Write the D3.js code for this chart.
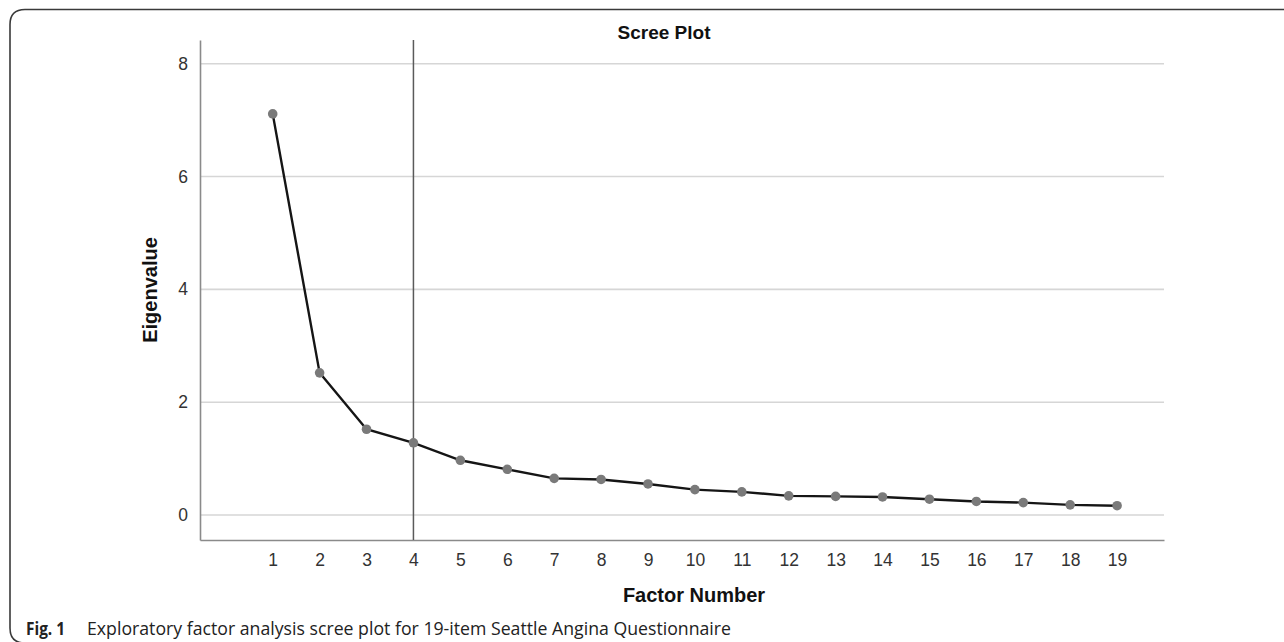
<!DOCTYPE html>
<html>
<head>
<meta charset="utf-8">
<script src="https://cdn.jsdelivr.net/npm/d3@7"></script>
<style>
  html, body { margin: 0; padding: 0; background: #fff; }
  svg { display: block; }
</style>
</head>
<body>
<div id="chart"></div>
<script>
// scree plot data
var factors = [1, 2, 3, 4, 5, 6, 7, 8, 9, 10, 11, 12, 13, 14, 15, 16, 17, 18, 19];
var eigenvalues = [7.11, 2.52, 1.52, 1.28, 0.97, 0.81, 0.65, 0.63, 0.55, 0.45,
                   0.41, 0.34, 0.33, 0.32, 0.28, 0.24, 0.22, 0.18, 0.165];
var yTicks = [0, 2, 4, 6, 8];
var cutoffFactor = 4;

var width = 1284;
var height = 642;
var font = '"Liberation Sans", Arial, sans-serif';

var svg = d3.select('#chart')
  .append('svg')
  .attr('width', width)
  .attr('height', height);

// figure frame (open on the right)
svg.append('path')
  .attr('d', 'M1290,9.5 H25 Q10,9.5 10,24.5 V628 Q10,643 25,643 H1290')
  .attr('fill', 'none')
  .attr('stroke', '#3a3a3a')
  .attr('stroke-width', 1.6);

var x = d3.scaleLinear().domain([-0.55, 20]).range([200, 1164]);
var y = d3.scaleLinear().domain([-0.443, 8.42]).range([540, 40]);

// gridlines
svg.append('g')
  .selectAll('line')
  .data(yTicks)
  .enter()
  .append('line')
  .attr('x1', x.range()[0])
  .attr('x2', x.range()[1])
  .attr('y1', function (d) { return y(d); })
  .attr('y2', function (d) { return y(d); })
  .attr('stroke', '#d6d6d6')
  .attr('stroke-width', 1.6);

// axes
var yAxis = svg.append('g')
  .attr('transform', 'translate(' + x.range()[0] + ',0)')
  .call(d3.axisLeft(y).tickValues(yTicks).tickSize(0).tickPadding(12));

var xAxis = svg.append('g')
  .attr('transform', 'translate(0,' + y.range()[0] + ')')
  .call(d3.axisBottom(x).tickValues(factors).tickSize(0).tickPadding(14).tickFormat(d3.format('d')));

[yAxis, xAxis].forEach(function (g) {
  g.select('.domain').attr('stroke', '#8a8a8a').attr('stroke-width', 1.6);
  g.selectAll('text')
    .attr('fill', '#333')
    .style('font-family', font)
    .style('font-size', '17.5px');
});

// cutoff reference line
svg.append('line')
  .attr('x1', x(cutoffFactor))
  .attr('x2', x(cutoffFactor))
  .attr('y1', y.range()[1])
  .attr('y2', y.range()[0])
  .attr('stroke', '#5a5a5a')
  .attr('stroke-width', 1.5);

// scree line
var line = d3.line()
  .x(function (d, i) { return x(factors[i]); })
  .y(function (d) { return y(d); });

svg.append('path')
  .datum(eigenvalues)
  .attr('d', line)
  .attr('fill', 'none')
  .attr('stroke', '#151515')
  .attr('stroke-width', 2.4);

svg.append('g')
  .selectAll('circle')
  .data(eigenvalues)
  .enter()
  .append('circle')
  .attr('cx', function (d, i) { return x(factors[i]); })
  .attr('cy', function (d) { return y(d); })
  .attr('r', 4.8)
  .attr('fill', '#7a7a7a');

// titles
svg.append('text')
  .attr('x', 664)
  .attr('y', 39)
  .attr('text-anchor', 'middle')
  .style('font-family', font)
  .style('font-weight', 'bold')
  .style('font-size', '19px')
  .attr('fill', '#111')
  .text('Scree Plot');

svg.append('text')
  .attr('x', 694)
  .attr('y', 602)
  .attr('text-anchor', 'middle')
  .style('font-family', font)
  .style('font-weight', 'bold')
  .style('font-size', '20px')
  .attr('fill', '#111')
  .text('Factor Number');

svg.append('text')
  .attr('transform', 'translate(157,290) rotate(-90)')
  .attr('text-anchor', 'middle')
  .style('font-family', font)
  .style('font-weight', 'bold')
  .style('font-size', '20px')
  .attr('fill', '#111')
  .text('Eigenvalue');

// caption (condensed to mimic the journal face)
var capFont = '"Open Sans", "Noto Sans", sans-serif';
svg.append('text')
  .attr('x', 26)
  .attr('y', 635)
  .attr('textLength', 39)
  .attr('lengthAdjust', 'spacingAndGlyphs')
  .style('font-family', capFont)
  .style('font-weight', 'bold')
  .style('font-size', '18px')
  .attr('fill', '#222')
  .text('Fig. 1');

svg.append('text')
  .attr('x', 87)
  .attr('y', 635)
  .attr('textLength', 644)
  .attr('lengthAdjust', 'spacingAndGlyphs')
  .style('font-family', capFont)
  .style('font-size', '18px')
  .attr('fill', '#222')
  .text('Exploratory factor analysis scree plot for 19-item Seattle Angina Questionnaire');
</script>
</body>
</html>
